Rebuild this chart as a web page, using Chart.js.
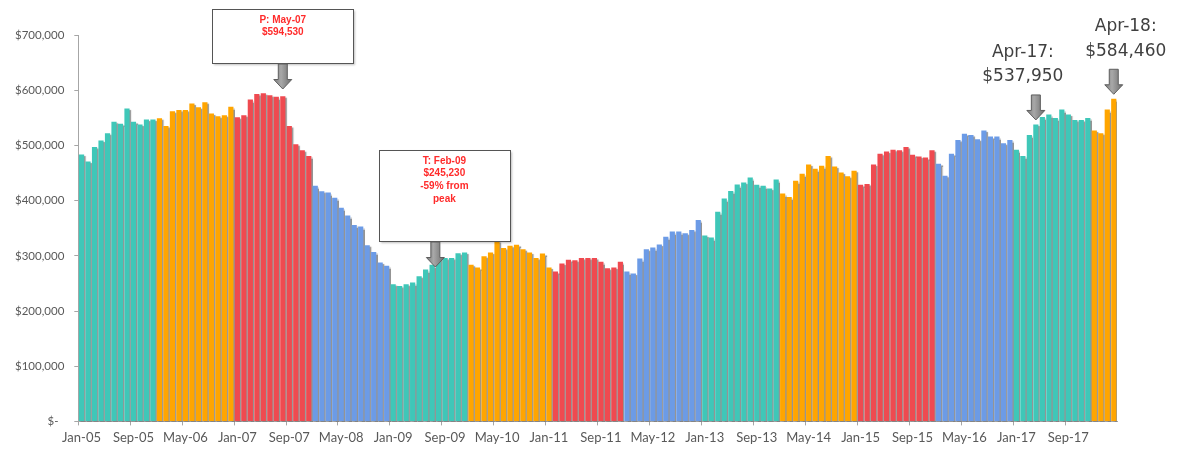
<!DOCTYPE html>
<html>
<head>
<meta charset="utf-8">
<script src="https://cdn.jsdelivr.net/npm/chart.js@4.4.1/dist/chart.umd.min.js"></script>
<style>
  html, body { margin: 0; padding: 0; background: #fff; }
  #wrap { width: 1184px; height: 455px; position: relative; }
</style>
</head>
<body>
<div id="wrap"><canvas id="c"></canvas></div>
<script>
// month categories, Jan-05 .. Apr-18
const monthNames = ["Jan", "Feb", "Mar", "Apr", "May", "Jun", "Jul", "Aug", "Sep", "Oct", "Nov", "Dec"];
const yearCodes = ["05", "06", "07", "08", "09", "10", "11", "12", "13", "14", "15", "16", "17", "18"];
const months = yearCodes.flatMap((y) => monthNames.map((m) => `${m}-${y}`)).slice(0, 160);

// median price
const price2005 = [483600, 471000, 497000, 509000, 522000, 543000, 539000, 567000, 543000, 538000, 547000, 547000];
const price2006 = [549000, 535000, 562000, 564000, 564000, 576000, 569000, 578000, 558000, 553000, 554500, 570000];
const price2007 = [551000, 554500, 583000, 593000, 594530, 591000, 588000, 589000, 535000, 502000, 491000, 481000];
const price2008 = [427000, 417000, 414500, 405000, 387000, 373000, 356000, 353000, 319000, 307000, 288000, 282000];
const price2009 = [248500, 245230, 248500, 251500, 263000, 275000, 283600, 295800, 295800, 296000, 304800, 306000];
const price2010 = [283600, 278800, 299000, 306000, 327000, 314000, 318000, 320000, 312000, 306000, 296000, 304000];
const price2011 = [279000, 271500, 286000, 293000, 292000, 296000, 296000, 296000, 289000, 277600, 279000, 289000];
const price2012 = [271500, 268000, 295000, 312000, 315000, 320600, 334500, 344000, 344000, 341000, 346700, 365000];
const price2013 = [337000, 333000, 380000, 403600, 417600, 429000, 433000, 441800, 428500, 427000, 422000, 438000];
const price2014 = [412700, 406700, 436000, 448500, 465500, 457600, 463000, 480600, 461800, 451000, 444000, 454000];
const price2015 = [428500, 430000, 465500, 485000, 489000, 492000, 491000, 497000, 483000, 480000, 478000, 491000];
const price2016 = [466700, 445000, 485000, 510000, 521000, 519000, 511000, 527000, 516000, 516000, 504000, 510000];
const price2017 = [492000, 481000, 519000, 537950, 551500, 555800, 549700, 565000, 556000, 546000, 546000, 549700];
const price2018 = [527000, 522000, 565000, 584460];

const prices = [].concat(
  price2005, price2006, price2007, price2008, price2009, price2010, price2011,
  price2012, price2013, price2014, price2015, price2016, price2017, price2018,
);

// colour runs: index where each colour block starts (Jan-11 stays orange)
const runStarts = [0, 12, 24, 36, 48, 60, 73, 84, 96, 108, 120, 132, 144, 156];
const palette = ["#3fc7b8", "#ffa500", "#ef4a50", "#6c9be6"];

const barColors = months.map((m, i) => {
  let r = 0;
  runStarts.forEach((s, k) => { if (i >= s) r = k; });
  return palette[r % palette.length];
});

// boxed callouts (peak / trough) and plain callouts (latest)
const boxNotes = [
  { at: 31, lines: ["P: May-07", "$594,530"], dx: 0, top: 9, w: 141, h: 54, tip: 89 },
  { at: 54.5, lines: ["T: Feb-09", "$245,230", "-59% from", "peak"], dx: 9, top: 150, w: 131, h: 91, tip: 267 },
];
const plainNotes = [
  { month: "Apr-17", lines: ["Apr-17:", "$537,950"], dx: -13 },
  { month: "Apr-18", lines: ["Apr-18:", "$584,460"], dx: 12 },
];

function drawArrow(c, x, top, tip) {
  const shaftW = 9, headW = 18, headH = 9.5;
  const neck = tip - headH;
  const g = c.createLinearGradient(x - headW / 2, 0, x + headW / 2, 0);
  g.addColorStop(0, "#7a7a7a");
  g.addColorStop(0.4, "#a8a8a8");
  g.addColorStop(1, "#6c6c6c");
  c.beginPath();
  c.moveTo(x - shaftW / 2, top);
  c.lineTo(x + shaftW / 2, top);
  c.lineTo(x + shaftW / 2, neck);
  c.lineTo(x + headW / 2, neck);
  c.lineTo(x, tip);
  c.lineTo(x - headW / 2, neck);
  c.lineTo(x - shaftW / 2, neck);
  c.closePath();
  c.fillStyle = g;
  c.fill();
  c.strokeStyle = "#5e5e5e";
  c.lineWidth = 1;
  c.stroke();
}

const barShadow = {
  id: "barShadow",
  beforeDatasetsDraw(chart) {
    const c = chart.ctx;
    c.save();
    c.shadowColor = "rgba(0,0,0,0.42)";
    c.shadowOffsetX = 1.5;
    c.shadowOffsetY = 1.5;
    c.shadowBlur = 1;
  },
  afterDatasetsDraw(chart) {
    chart.ctx.restore();
  },
};

const notes = {
  id: "notes",
  afterDraw(chart) {
    const c = chart.ctx;
    const xs = chart.scales.x;
    const ys = chart.scales.y;
    c.save();

    boxNotes.forEach((n) => {
      const ax = xs.getPixelForValue(n.at);
      const cx = ax + n.dx;
      const left = Math.round(cx - n.w / 2) + 0.5;
      const top = Math.round(n.top) + 0.5;
      c.save();
      c.shadowColor = "rgba(0,0,0,0.25)";
      c.shadowOffsetX = 1;
      c.shadowOffsetY = 1;
      c.shadowBlur = 2;
      c.fillStyle = "#fff";
      c.fillRect(left, top, n.w, n.h);
      c.restore();
      c.strokeStyle = "#555";
      c.lineWidth = 1;
      c.strokeRect(left, top, n.w, n.h);

      c.fillStyle = "#ff2b2b";
      c.font = 'bold 10px "Liberation Sans", Arial, sans-serif';
      c.textAlign = "center";
      c.textBaseline = "middle";
      n.lines.forEach((t, i) => c.fillText(t, cx, top + 10.5 + i * 12.7));

      drawArrow(c, ax, top + n.h + 0.5, n.tip);
    });

    plainNotes.forEach((n) => {
      const i = months.indexOf(n.month);
      const ax = xs.getPixelForValue(i);
      const tip = ys.getPixelForValue(prices[i]) - 4.5;
      drawArrow(c, ax, tip - 25, tip);
      c.fillStyle = "#404040";
      c.font = '17px "DejaVu Sans", sans-serif';
      c.textAlign = "center";
      c.textBaseline = "middle";
      const base = tip - 25 - 18;
      c.fillText(n.lines[0], ax + n.dx, base - 24.5);
      c.fillText(n.lines[1], ax + n.dx, base);
    });

    c.restore();
  },
};

new Chart(document.getElementById("c"), {
  type: "bar",
  plugins: [barShadow, notes],
  data: {
    labels: months,
    datasets: [
      {
        data: prices,
        backgroundColor: barColors,
        borderWidth: 0,
        barPercentage: 0.8,
        categoryPercentage: 1,
      },
    ],
  },
  options: {
    animation: false,
    responsive: true,
    maintainAspectRatio: false,
    layout: {
      padding: { top: 35, right: 67, bottom: 4, left: 5 },
    },
    plugins: {
      legend: { display: false },
      tooltip: { enabled: false },
    },
    scales: {
      x: {
        offset: true,
        grid: {
          offset: true,
          drawOnChartArea: false,
          tickLength: 4,
          color: (ctx) => (ctx.index % 8 === 0 && ctx.index < months.length ? "#a6a6a6" : "rgba(0,0,0,0)"),
        },
        border: { color: "#a6a6a6" },
        ticks: {
          autoSkip: false,
          maxRotation: 0,
          padding: 5,
          color: "#595959",
          font: { family: "Lato", size: 13 },
          callback: (v, i) => (i % 8 === 0 ? months[i] : ""),
        },
      },
      y: {
        min: 0,
        max: 700000,
        grid: { drawOnChartArea: false, tickLength: 4, color: "#a6a6a6" },
        border: { color: "#a6a6a6" },
        ticks: {
          stepSize: 100000,
          padding: 10,
          color: "#595959",
          font: { family: "Lato", size: 11.5 },
          callback: (v) => (v === 0 ? "$-\u2002" : "$" + v.toLocaleString("en-US")),
        },
      },
    },
  },
});
</script>
</body>
</html>
